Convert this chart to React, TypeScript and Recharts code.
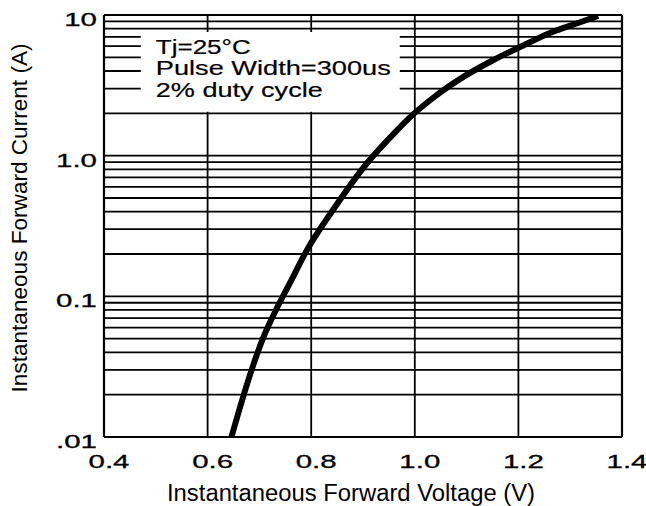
import React from "react"
import {
  LineChart,
  Line,
  XAxis,
  YAxis,
  CartesianGrid,
  ReferenceArea,
  ReferenceLine,
} from "recharts"

// forward voltage (V) and forward current (A)
const voltage = [0.646, 0.685, 0.708, 0.732, 0.759, 0.792, 0.842, 0.908, 0.966, 0.991, 1.035, 1.1, 1.152, 1.203, 1.261, 1.315, 1.354]
const current = [0.01, 0.03, 0.0514, 0.08, 0.1245, 0.214, 0.411, 0.887, 1.52, 1.88, 2.57, 3.75, 4.79, 5.92, 7.45, 8.77, 9.84]

const xTicks = [0.4, 0.6, 0.8, 1.0, 1.2, 1.4]
const xTickLabels = ["0.4", "0.6", "0.8", "1.0", "1.2", "1.4"]

const yMajor = [0.01, 0.1, 1, 10]
const yMajorLabels = [".01", "0.1", "1.0", "10"]
const yTicks = [
  0.01, 0.02, 0.03, 0.04, 0.05, 0.06, 0.07, 0.08, 0.09,
  0.1, 0.2, 0.3, 0.4, 0.5, 0.6, 0.7, 0.8, 0.9,
  1, 2, 3, 4, 5, 6, 7, 8, 9, 10,
]

const noteLines = ["Tj=25°C", "Pulse Width=300us", "2% duty cycle"]
const noteWidths = [95, 235, 167]

const data = voltage.map((v, i) => ({ v, i: current[i] }))

const FONT = "'Liberation Sans', Arial, sans-serif"

function XTick(props: any) {
  const { x, y, payload } = props
  const idx = xTicks.findIndex((t) => Math.abs(t - payload.value) < 1e-6)
  if (idx < 0) return null
  return (
    <text
      transform={`translate(${x + 5},${y + 31}) scale(1.55,1)`}
      textAnchor="middle"
      fontSize={19}
      fontFamily={FONT}
      fill="#000"
      stroke="#000"
      strokeWidth={0.3}
    >
      {xTickLabels[idx]}
    </text>
  )
}

function YTick(props: any) {
  const { x, y, payload } = props
  const idx = yMajor.findIndex((t) => Math.abs(t - payload.value) / t < 1e-6)
  if (idx < 0) return null
  return (
    <text
      transform={`translate(${x - 7},${y + 11}) scale(1.55,1)`}
      textAnchor="end"
      fontSize={19}
      fontFamily={FONT}
      fill="#000"
      stroke="#000"
      strokeWidth={0.3}
    >
      {yMajorLabels[idx]}
    </text>
  )
}

function XTitle(props: any) {
  const vb = props.viewBox || { x: 104, y: 437, width: 518, height: 69 }
  return (
    <text
      x={vb.x + vb.width / 2 - 12}
      y={vb.y + 64}
      textAnchor="middle"
      fontSize={23}
      fontFamily={FONT}
      fill="#000"
      textLength={368}
      lengthAdjust="spacingAndGlyphs"
    >
      Instantaneous Forward Voltage (V)
    </text>
  )
}

function YTitle(props: any) {
  const vb = props.viewBox || { x: 0, y: 15, width: 104, height: 422 }
  const cx = vb.x + 27
  const cy = vb.y + vb.height / 2 - 8
  return (
    <text
      x={cx}
      y={cy}
      transform={`rotate(-90, ${cx}, ${cy})`}
      textAnchor="middle"
      fontSize={22.5}
      fontFamily={FONT}
      fill="#000"
      textLength={349}
      lengthAdjust="spacingAndGlyphs"
    >
      Instantaneous Forward Current (A)
    </text>
  )
}

function NoteBox(props: any) {
  const { x, y, width, height } = props
  return (
    <g>
      <rect x={x} y={y} width={width} height={height} fill="#fff" />
      {noteLines.map((line, k) => (
        <text
          key={k}
          x={x + 15}
          y={y + 22 + k * 21.3}
          fontSize={20.5}
          fontFamily={FONT}
          fill="#000"
          stroke="#000"
          strokeWidth={0.2}
          textLength={noteWidths[k]}
          lengthAdjust="spacingAndGlyphs"
        >
          {line}
        </text>
      ))}
    </g>
  )
}

export default function App() {
  return (
    <div style={{ position: "absolute", left: 0, top: 0, width: 646, height: 506, background: "#fff" }}>
      <LineChart width={646} height={506} data={data} margin={{ top: 15, right: 24, bottom: 0, left: 0 }}>
        <CartesianGrid stroke="#000" strokeWidth={1.8} />
        <XAxis
          dataKey="v"
          type="number"
          domain={[0.4, 1.4]}
          ticks={xTicks}
          height={69}
          tickLine={false}
          tickSize={0}
          tickMargin={0}
          axisLine={{ stroke: "#000", strokeWidth: 2.2 }}
          tick={<XTick />}
          interval={0}
          label={<XTitle />}
          allowDataOverflow
        />
        <YAxis
          type="number"
          scale="log"
          domain={[0.01, 10]}
          ticks={yTicks}
          width={104}
          tickLine={false}
          tickSize={0}
          tickMargin={0}
          axisLine={{ stroke: "#000", strokeWidth: 2.2 }}
          tick={<YTick />}
          interval={0}
          label={<YTitle />}
          allowDataOverflow
        />
        <ReferenceLine y={10} stroke="#000" strokeWidth={2.2} />
        <ReferenceLine x={1.4} stroke="#000" strokeWidth={2.2} />
        <ReferenceArea
          x1={0.471}
          x2={0.971}
          y1={2.05}
          y2={7.57}
          ifOverflow="visible"
          shape={<NoteBox />}
        />
        <Line
          type="monotone"
          dataKey="i"
          stroke="#000"
          strokeWidth={6}
          dot={false}
          isAnimationActive={false}
        />
      </LineChart>
    </div>
  )
}
